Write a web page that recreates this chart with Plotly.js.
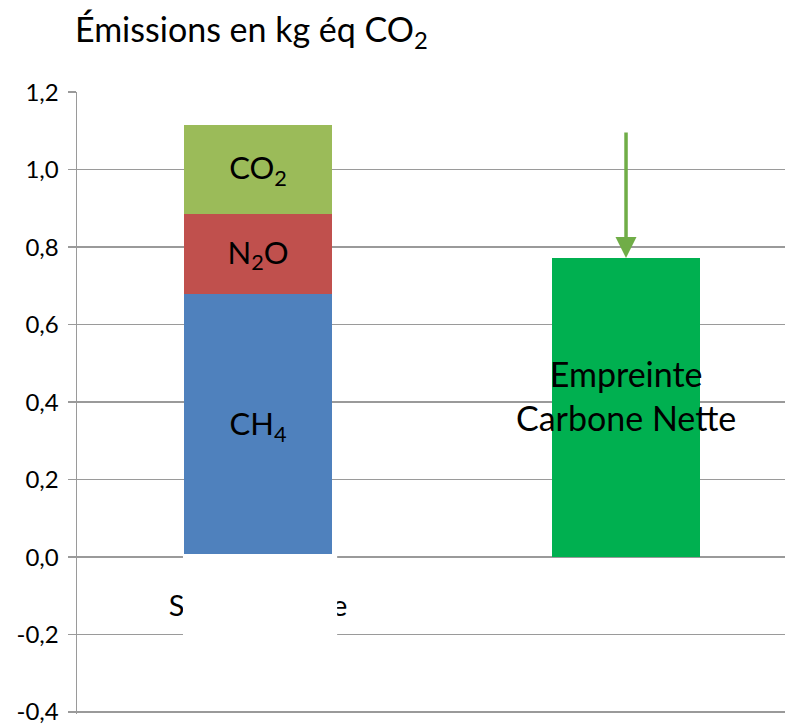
<!DOCTYPE html>
<html>
<head>
<meta charset="utf-8">
<script src="https://cdn.plot.ly/plotly-3.0.1.min.js"></script>
<style>html,body{margin:0;padding:0;background:#fff;}#chart{width:785px;height:725px;}</style>
</head>
<body>
<div id="chart"></div>
<script>
// ---- data ----
const categories = ["Sans stockage", "Empreinte Carbone Nette"];
const ch4 = [0.68, null];
const n2o = [0.205, null];
const co2 = [0.23, null];
const net = [null, 0.772];
const arrowStart = 1.10;
const yTicks = [-0.4, -0.2, 0.0, 0.2, 0.4, 0.6, 0.8, 1.0, 1.2];
const yTickText = yTicks.map(v => v.toFixed(1).replace(".", ","));
const segLabels = ["CH<sub>4</sub>", "N<sub>2</sub>O", "CO<sub>2</sub>"];
const netLabel = "Empreinte<br>Carbone Nette";
const titleText = "Émissions en kg éq CO<sub>2</sub>";

const FONT = "Lato, 'Open Sans', sans-serif";
const barW = 0.4;

function seg(vals, color, label) {
  return {
    type: "bar", x: categories, y: vals, width: barW,
    marker: {color: color, line: {width: 0}},
    text: vals.map(v => v == null ? "" : label),
    texttemplate: "%{text}",
    textposition: "inside", insidetextanchor: "middle",
    constraintext: "none",
    textfont: {family: FONT, size: 31, color: "#000"},
    hoverinfo: "skip"
  };
}

const traces = [
  seg(ch4, "#4F81BD", segLabels[0]),
  seg(n2o, "#C0504D", segLabels[1]),
  seg(co2, "#9BBB59", segLabels[2]),
  {type: "bar", x: categories, y: net, width: barW,
   marker: {color: "#00B050", line: {width: 0}}, hoverinfo: "skip"},
  // category label (partly hidden by the white box in the original)
  {type: "scatter", mode: "text", x: [categories[0]], y: [-0.134],
   text: [categories[0]], textposition: "middle center",
   textfont: {family: FONT, size: 29, color: "#000"}, hoverinfo: "skip"}
];

const layout = {
  width: 785, height: 725,
  margin: {l: 77, r: 0, t: 92, b: 11},
  paper_bgcolor: "#fff", plot_bgcolor: "#fff",
  barmode: "stack",
  showlegend: false,
  hovermode: false,
  font: {family: FONT, color: "#000"},
  title: {text: titleText, font: {family: FONT, size: 34, color: "#000"},
          x: 0, xref: "paper", xanchor: "left", y: 1, yref: "container", yanchor: "top", pad: {t: 18, l: -2}},
  xaxis: {
    type: "category", range: [-0.492, 1.432],
    showgrid: false, zeroline: false, showline: false, showticklabels: false, ticks: ""
  },
  yaxis: {
    range: [-0.405, 1.2005], tickmode: "array", tickvals: yTicks, ticktext: yTickText,
    showgrid: true, gridcolor: "#9a9a9a", gridwidth: 1.5,
    zeroline: false,
    showline: true, linecolor: "#9a9a9a", linewidth: 1.5,
    ticks: "outside", ticklen: 8, tickcolor: "#9a9a9a", tickwidth: 1.5,
    ticklabelstandoff: 4, ticklabeloverflow: "allow",
    tickfont: {family: FONT, size: 24, color: "#000"}
  },
  shapes: [
    {type: "rect", xref: "x", yref: "y", layer: "above",
     x0: -0.204, x1: 0.215, y0: 0.008, y1: -0.33,
     fillcolor: "#fff", line: {width: 0}}
  ],
  annotations: [
    {x: categories[1], y: 0.418, xref: "x", yref: "y", text: netLabel,
     showarrow: false, font: {family: FONT, size: 34, color: "#000"}, align: "center"},
    {x: categories[1], y: net[1], ax: categories[1], ay: arrowStart,
     xref: "x", yref: "y", axref: "x", ayref: "y", text: "",
     showarrow: true, arrowhead: 2, arrowsize: 1.2, arrowwidth: 3.5, arrowcolor: "#70AD47",
     standoff: 0}
  ]
};

Plotly.newPlot("chart", traces, layout, {displayModeBar: false, staticPlot: true});
</script>
</body>
</html>
